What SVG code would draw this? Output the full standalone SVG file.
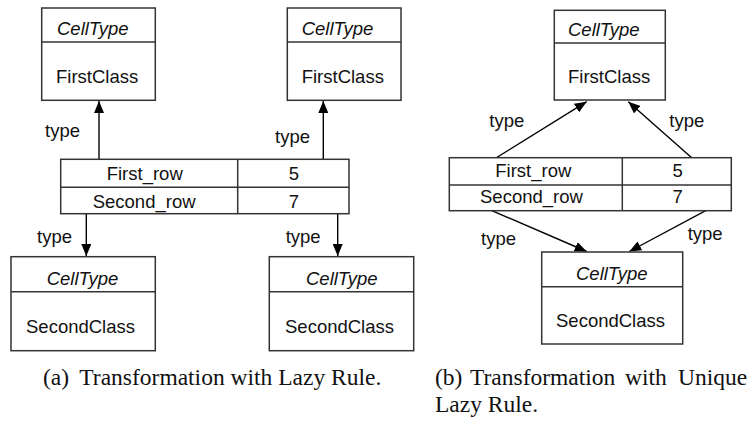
<svg xmlns="http://www.w3.org/2000/svg" width="752" height="422" viewBox="0 0 752 422">
<style>
.box{fill:#fff;stroke:#333;stroke-width:1.5}
.div{stroke:#333;stroke-width:1.5}
.t{font-family:"Liberation Sans",Arial,sans-serif;font-size:18.5px;fill:#111}
.it{font-style:italic}
.m{text-anchor:middle}
.cap{font-family:"Liberation Serif","Times New Roman",serif;font-size:23.5px;fill:#111}
.c{stroke:#000;stroke-width:1.4;fill:none;marker-end:url(#ah)}
</style>
<defs>
<marker id="ah" markerUnits="userSpaceOnUse" markerWidth="12" markerHeight="10" refX="12" refY="5" orient="auto">
<path d="M0,0 L12,5 L0,10 z" fill="#000"/>
</marker>
</defs>
<rect width="752" height="422" fill="#fff"/>

<g id="connectors">
<line class="c" x1="99" y1="172.7" x2="99" y2="101"/>
<line class="c" x1="323.3" y1="172.7" x2="323.3" y2="101"/>
<line class="c" x1="86.3" y1="208.3" x2="86.3" y2="256"/>
<line class="c" x1="337.7" y1="208.3" x2="337.7" y2="256"/>
<line class="c" x1="475" y1="171" x2="586.7" y2="101.7"/>
<line class="c" x1="706.7" y1="171" x2="628.3" y2="101.7"/>
<line class="c" x1="475" y1="203.3" x2="586.7" y2="251.5"/>
<line class="c" x1="719.3" y1="203.3" x2="629.3" y2="251.5"/>
<text class="t" x="45" y="136.7">type</text>
<text class="t" x="275" y="143">type</text>
<text class="t" x="37" y="242.7">type</text>
<text class="t" x="285.7" y="242.7">type</text>
<text class="t" x="489.3" y="126.7">type</text>
<text class="t" x="669.3" y="126.7">type</text>
<text class="t" x="481" y="245">type</text>
<text class="t" x="687.7" y="240">type</text>
</g>

<g id="a-top-left">
<rect class="box" x="41.7" y="8" width="113.6" height="92.3"/>
<line class="div" x1="41.7" y1="42" x2="155.3" y2="42"/>
<text class="t it" x="57" y="35">CellType</text>
<text class="t" x="56" y="83">FirstClass</text>
</g>
<g id="a-top-right">
<rect class="box" x="287.3" y="8" width="113.7" height="92.3"/>
<line class="div" x1="287.3" y1="42" x2="401" y2="42"/>
<text class="t it" x="301.7" y="35">CellType</text>
<text class="t" x="301.7" y="83">FirstClass</text>
</g>
<g id="a-table">
<rect class="box" x="60.7" y="159.3" width="288.3" height="54.4"/>
<line class="div" x1="60.7" y1="187.3" x2="349" y2="187.3"/>
<line class="div" x1="237.7" y1="159.3" x2="237.7" y2="213.7"/>
<text class="t" x="106.7" y="180">First_row</text>
<text class="t m" x="294" y="180">5</text>
<text class="t" x="92.7" y="207.7">Second_row</text>
<text class="t m" x="294" y="207.7">7</text>
</g>
<g id="a-bottom-left">
<rect class="box" x="11" y="256.7" width="144.3" height="94"/>
<line class="div" x1="11" y1="291.7" x2="155.3" y2="291.7"/>
<text class="t it" x="46.7" y="285">CellType</text>
<text class="t" x="26" y="333">SecondClass</text>
</g>
<g id="a-bottom-right">
<rect class="box" x="269.3" y="256.7" width="144.4" height="94"/>
<line class="div" x1="269.3" y1="291.7" x2="413.7" y2="291.7"/>
<text class="t it" x="306" y="285">CellType</text>
<text class="t" x="285" y="333">SecondClass</text>
</g>

<g id="b-top">
<rect class="box" x="554.3" y="10.3" width="111" height="89.7"/>
<line class="div" x1="554.3" y1="43" x2="665.3" y2="43"/>
<text class="t it" x="568" y="36">CellType</text>
<text class="t" x="568" y="83.3">FirstClass</text>
</g>
<g id="b-table">
<rect class="box" x="449.3" y="157.7" width="282" height="53"/>
<line class="div" x1="449.3" y1="185" x2="731.3" y2="185"/>
<line class="div" x1="622.3" y1="157.7" x2="622.3" y2="210.7"/>
<text class="t" x="495.3" y="176.7">First_row</text>
<text class="t m" x="677.7" y="176.7">5</text>
<text class="t" x="480" y="203.3">Second_row</text>
<text class="t m" x="677.7" y="203.3">7</text>
</g>
<g id="b-bottom">
<rect class="box" x="541.7" y="252" width="141" height="92"/>
<line class="div" x1="541.7" y1="286.7" x2="682.7" y2="286.7"/>
<text class="t it" x="576" y="280">CellType</text>
<text class="t" x="556" y="326.7">SecondClass</text>
</g>

<g id="captions">
<text class="cap" y="385"><tspan x="43">(a)</tspan><tspan x="79.3">Transformation with Lazy Rule.</tspan></text>
<text class="cap" y="385"><tspan x="435">(b)</tspan><tspan x="470">Transformation</tspan><tspan x="625">with</tspan><tspan x="678">Unique</tspan></text>
<text class="cap" x="435" y="411.7">Lazy Rule.</text>
</g>
</svg>
